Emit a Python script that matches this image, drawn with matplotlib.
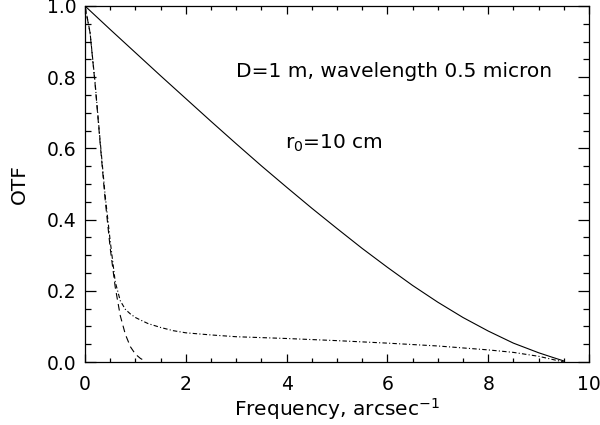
"""
OTF of a 1 m telescope at 0.5 micron: diffraction limit, long- and
short-exposure seeing for r0 = 10 cm.  Values read off the reference.
"""
import matplotlib
matplotlib.use('Agg')
import matplotlib.pyplot as plt
from matplotlib.ticker import MultipleLocator, FormatStrFormatter

# diffraction-limited telescope OTF (solid)
freq_tel = [0.0, 0.5, 1.0, 1.5, 2.0, 2.5, 3.0, 3.5, 4.0, 4.5, 5.0, 5.5,
            6.0, 6.5, 7.0, 7.5, 8.0, 8.5, 9.0, 9.3, 9.5]
otf_tel = [1.0, 0.934, 0.869, 0.804, 0.740, 0.676, 0.613, 0.551, 0.491,
           0.432, 0.375, 0.319, 0.266, 0.215, 0.168, 0.125, 0.087, 0.053,
           0.026, 0.012, 0.003]

# long-exposure seeing OTF (dashed)
freq_long = [0.0, 0.1, 0.2, 0.3, 0.4, 0.5, 0.6, 0.7, 0.8, 0.9, 1.0, 1.1, 1.2]
otf_long = [1.0, 0.925, 0.781, 0.615, 0.456, 0.320, 0.210, 0.130, 0.078,
            0.043, 0.022, 0.010, 0.002]

# short-exposure OTF (dash-dot)
freq_short = [0.0, 0.1, 0.2, 0.3, 0.4, 0.5, 0.6, 0.7, 0.8, 0.9, 1.0, 1.1,
              1.25, 1.5, 1.75, 2.0, 2.5, 3.0, 4.0, 5.0, 6.0, 7.0, 8.0,
              8.5, 9.0, 9.5]
otf_short = [1.0, 0.926, 0.785, 0.622, 0.468, 0.340, 0.225, 0.172, 0.148,
             0.135, 0.125, 0.118, 0.108, 0.097, 0.088, 0.082, 0.076, 0.071,
             0.066, 0.060, 0.053, 0.045, 0.034, 0.027, 0.016, 0.0]

FS = 14.5
plt.rcParams['font.family'] = ['DejaVu Sans']

fig = plt.figure(figsize=(6, 4.25), dpi=100)
ax = fig.add_axes([85 / 600, 1 - 362 / 425, 504 / 600, 356 / 425])

ax.plot(freq_tel, otf_tel, color='black', linewidth=0.8)
ax.plot(freq_long, otf_long, color='black', linewidth=0.8, dashes=(6, 4))
ax.plot(freq_short, otf_short, color='black', linewidth=0.8,
        dashes=(4, 2, 1, 2))

ax.set_xlim(0, 10)
ax.set_ylim(0, 1.0)
ax.xaxis.set_major_locator(MultipleLocator(2))
ax.xaxis.set_minor_locator(MultipleLocator(0.5))
ax.yaxis.set_major_locator(MultipleLocator(0.2))
ax.yaxis.set_minor_locator(MultipleLocator(0.05))
ax.xaxis.set_major_formatter(FormatStrFormatter('%d'))
ax.yaxis.set_major_formatter(FormatStrFormatter('%.1f'))

ax.tick_params(which='both', direction='in', top=True, right=True,
               width=0.9, labelsize=13.5)
ax.tick_params(axis='x', which='major', length=6, pad=9)
ax.tick_params(axis='x', which='minor', length=3)
ax.tick_params(axis='y', which='major', length=8, pad=6)
ax.tick_params(axis='y', which='minor', length=4)
for sp in ax.spines.values():
    sp.set_linewidth(0.9)

ax.set_xlabel('Frequency, arcsec$^{-1}$', fontsize=FS, labelpad=2)
ax.set_ylabel('OTF', fontsize=FS, labelpad=13)

ax.text(3.0, 0.815, 'D=1 m, wavelength 0.5 micron', fontsize=FS,
        ha='left', va='center')
ax.text(3.97, 0.615, 'r$_0$=10 cm', fontsize=FS, ha='left', va='center')

fig.savefig('out.png', dpi=100)
